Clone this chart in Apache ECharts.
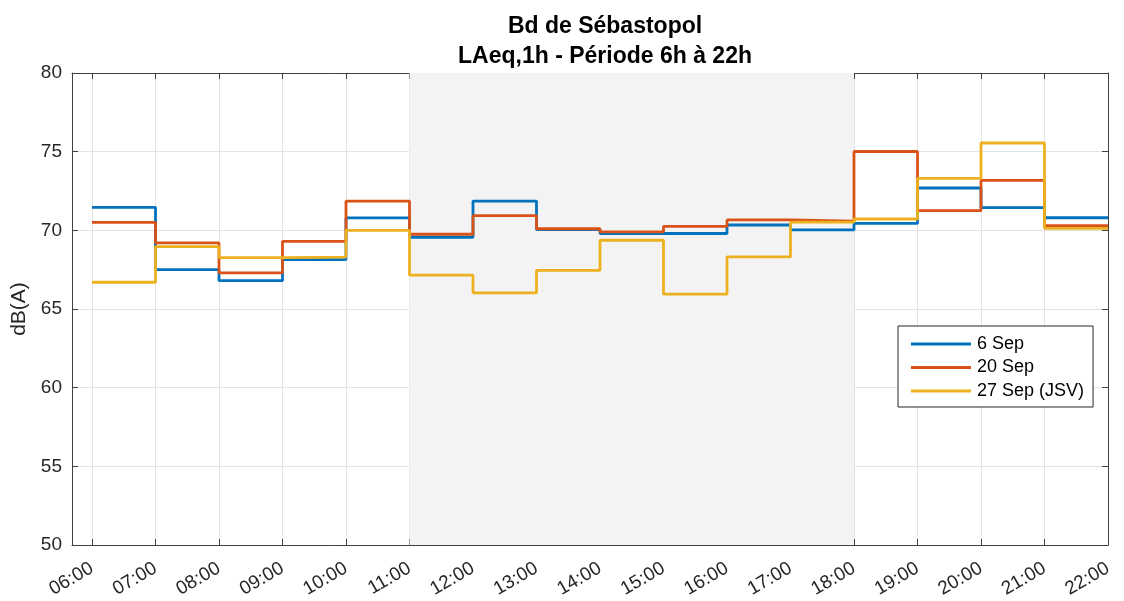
<!DOCTYPE html>
<html>
<head>
<meta charset="utf-8">
<script src="https://cdn.jsdelivr.net/npm/echarts@6/dist/echarts.min.js"></script>
<style>html,body{margin:0;padding:0;background:#fff}#c{width:1124px;height:601px}</style>
</head>
<body>
<div id="c"></div>
<script>
const hours = [6,7,8,9,10,11,12,13,14,15,16,17,18,19,20,21,22];
const tickLabels = ['06:00','07:00','08:00','09:00','10:00','11:00','12:00','13:00','14:00','15:00','16:00','17:00','18:00','19:00','20:00','21:00','22:00'];
// values per hour 06..21, last value repeated at 22:00 (stairs)
const sep6  = [71.46,67.5,66.8,68.14,70.79,69.56,71.86,70.04,69.8,69.8,70.34,70.03,70.44,72.69,71.44,70.8,70.8];
const sep20 = [70.5,69.2,67.3,69.3,71.86,69.75,70.93,70.1,69.9,70.25,70.66,70.58,75.01,71.25,73.17,70.3,70.3];
const sep27 = [66.7,68.97,68.27,68.3,70.0,67.15,66.03,67.46,69.37,65.94,68.31,70.52,70.72,73.3,75.55,70.13,70.13];
const seriesNames = ['6 Sep','20 Sep','27 Sep (JSV)'];
const colors = ['#0072BD','#D95319','#EDB120'];
const shadeFrom = 11, shadeTo = 18;

const font = '"Liberation Sans", Arial, sans-serif';
const axisCol = '#404040';
const gridCol = '#e3e3e3';
const xMin = 5.685, xMax = 22;

function toPts(vals){ return hours.map((h,i)=>[h, vals[i]]); }
function fmt(v){ const i = hours.indexOf(v); return i>=0 ? tickLabels[i] : ''; }

const chart = echarts.init(document.getElementById('c'), null, {renderer:'canvas'});
const allSeries = [sep6, sep20, sep27].map((vals,k)=>({
  name: seriesNames[k], type:'line', step:'end', data: toPts(vals),
  symbol:'none', lineStyle:{width:2.8, color:colors[k]}, itemStyle:{color:colors[k]},
  z: 3 + k, animation:false
}));
allSeries[0].markArea = {
  silent:true, itemStyle:{color:'#f3f3f3'},
  data:[[{xAxis:shadeFrom},{xAxis:shadeTo}]]
};

chart.setOption({
  animation:false,
  title:{
    text:'Bd de Sébastopol\nLAeq,1h - Période 6h à 22h',
    left: 600, top: 7, textAlign:'center',
    textStyle:{fontFamily:font, fontSize:23, fontWeight:'bold', color:'#000', lineHeight:30}
  },
  legend:{
    orient:'vertical', left:898, top:326,
    data: seriesNames,
    backgroundColor:'#fff', borderColor:'#262626', borderWidth:1,
    padding:[9,9,7,13], itemWidth:60, itemHeight:3, itemGap:5.5,
    icon:'rect',
    textStyle:{fontFamily:font, fontSize:18, color:'#000', padding:[0,0,0,1]}
  },
  grid:{left:72, right:16, top:73, bottom:56, containLabel:false},
  xAxis:[{
    type:'value', min:xMin, max:xMax, position:'bottom',
    axisLine:{show:true, onZero:false, lineStyle:{color:axisCol, width:1}},
    axisTick:{show:true, inside:true, length:6, customValues:hours, lineStyle:{color:axisCol}},
    axisLabel:{customValues:hours, formatter:fmt, rotate:30, fontFamily:font, fontSize:19, color:'#262626', margin:22},
    splitLine:{show:true, lineStyle:{color:gridCol, width:1}}
  },{
    type:'value', min:xMin, max:xMax, position:'top',
    axisLine:{show:true, onZero:false, lineStyle:{color:axisCol, width:1}},
    axisTick:{show:true, inside:true, length:6, customValues:hours, lineStyle:{color:axisCol}},
    axisLabel:{show:false}, splitLine:{show:false}
  }],
  yAxis:[{
    type:'value', min:50, max:80, interval:5, name:'dB(A)', nameLocation:'middle', nameGap:37, nameRotate:90,
    nameTextStyle:{fontFamily:font, fontSize:21, color:'#262626'},
    axisLine:{show:true, onZero:false, lineStyle:{color:axisCol, width:1}},
    axisTick:{show:true, inside:true, length:6, lineStyle:{color:axisCol}},
    axisLabel:{fontFamily:font, fontSize:19, color:'#262626', margin:10},
    splitLine:{show:true, lineStyle:{color:gridCol, width:1}}
  },{
    type:'value', min:50, max:80, interval:5, position:'right',
    axisLine:{show:true, onZero:false, lineStyle:{color:axisCol, width:1}},
    axisTick:{show:true, inside:true, length:6, lineStyle:{color:axisCol}},
    axisLabel:{show:false}, splitLine:{show:false}
  }],
  series: allSeries
});
</script>
</body>
</html>
